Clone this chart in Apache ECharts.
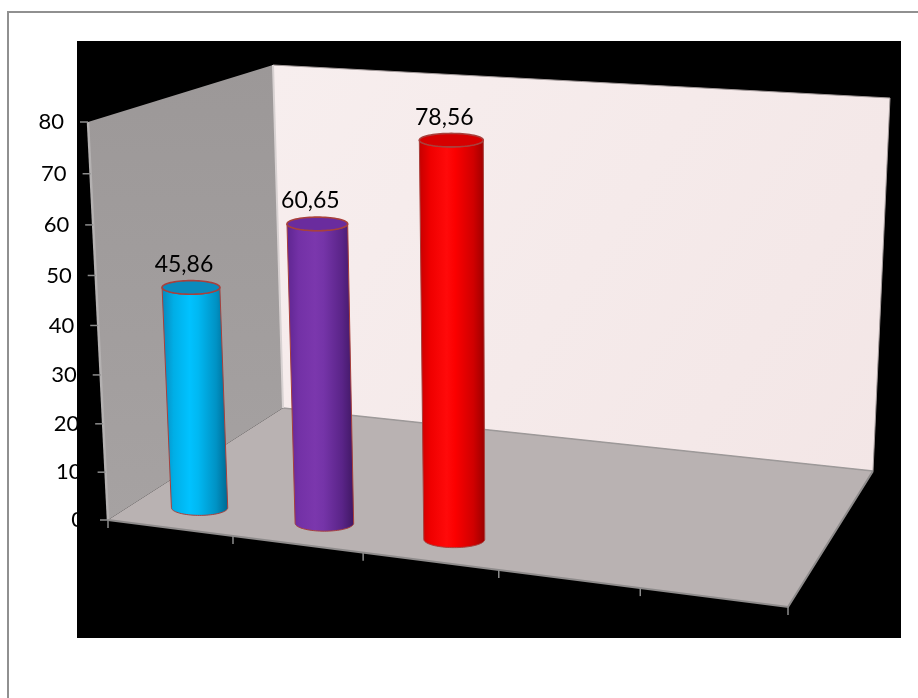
<!DOCTYPE html>
<html>
<head>
<meta charset="utf-8">
<script src="https://cdn.jsdelivr.net/npm/echarts@6/dist/echarts.min.js"></script>
<style>
  html, body { margin: 0; padding: 0; background: #ffffff; }
  #chart { width: 918px; height: 698px; }
</style>
</head>
<body>
<div id="chart"></div>
<script>
// ---- data ----
const categories = ['1', '2', '3', '4', '5'];
const values = [45.86, 60.65, 78.56];
const yTicks = [0, 10, 20, 30, 40, 50, 60, 70, 80];
const yTickLabels = ['0', '10', '20', '30', '40', '50', '60', '70', '80'];

// ---- styling ----
const barPalette = [
  { edge: ['#0a86b8', '#00aee6', '#00c2ff', '#00b8f2', '#0092c4', '#00678f'], top: '#0a8bbd' },
  { edge: ['#5e2590', '#7331a6', '#7b37ad', '#7534a8', '#5a2488', '#3f1762'], top: '#6a2c9e' },
  { edge: ['#c40000', '#f00000', '#ff0a0a', '#fb0000', '#d00000', '#9a0000'], top: '#d60000' }
];
const outlineColor = '#a8403c';
const axisFont = '22px Lato, Calibri, "Open Sans", sans-serif';
const labelFont = '23px Lato, Calibri, "Open Sans", sans-serif';

// ---- 3D box layout: floor (h = 0) and ceiling (h = axis max) quads,
// corners ordered front-left, front-right, back-right, back-left ----
const floorQuad = [[108, 520], [788, 607], [873, 471], [283, 408]];
const ceilQuad  = [[88, 122], [803, 168], [890, 98], [273, 65]];
const barDepth = 0.155;   // position of the columns along the depth axis (0 front, 1 back)
const barRadius = 0.23;   // column radius as a share of the category band
const heightWarp = -0.044;

// unit square -> quad projective mapping
function makeHomography(q) {
  const [x0, y0] = q[0], [x1, y1] = q[1], [x2, y2] = q[2], [x3, y3] = q[3];
  const dx1 = x1 - x2, dx2 = x3 - x2, dx3 = x0 - x1 + x2 - x3;
  const dy1 = y1 - y2, dy2 = y3 - y2, dy3 = y0 - y1 + y2 - y3;
  const den = dx1 * dy2 - dx2 * dy1;
  const g = (dx3 * dy2 - dx2 * dy3) / den;
  const h = (dx1 * dy3 - dx3 * dy1) / den;
  const a = x1 - x0 + g * x1, b = x3 - x0 + h * x3, c = x0;
  const d = y1 - y0 + g * y1, e = y3 - y0 + h * y3, f = y0;
  return function (u, v) {
    const w = g * u + h * v + 1;
    return [(a * u + b * v + c) / w, (d * u + e * v + f) / w];
  };
}
const floorMap = makeHomography(floorQuad);
const ceilMap = makeHomography(ceilQuad);

// (u along categories, v depth, h height) all in 0..1 -> screen
function project(u, v, h) {
  const p0 = floorMap(u, v), p1 = ceilMap(u, v);
  const t = h * (1 + heightWarp) / (1 + heightWarp * h);
  return [p0[0] + (p1[0] - p0[0]) * t, p0[1] + (p1[1] - p0[1]) * t];
}

// grid pixel -> unit box coordinates
function toUnit(cs, pt) {
  return [(pt[0] - cs.x) / cs.width, (cs.y + cs.height - pt[1]) / cs.height];
}

function arc(cx, cy, rx, ry, t0, t1, n) {
  const pts = [];
  for (let k = 0; k <= n; k++) {
    const t = t0 + (t1 - t0) * k / n;
    pts.push([cx + rx * Math.cos(t), cy + ry * Math.sin(t)]);
  }
  return pts;
}

function ellipseAt(uc, ur, h) {
  const L = project(uc - ur, barDepth, h);
  const R = project(uc + ur, barDepth, h);
  const C = project(uc, barDepth, h);
  const rx = (R[0] - L[0]) / 2;
  return { cx: (L[0] + R[0]) / 2, cy: C[1], rx: rx, ry: rx * (0.27 - 0.06 * h) };
}

function fmt(v) { return v.toFixed(2).replace('.', ','); }

// walls and floor
function renderFrame(params, api) {
  const P = (u, v, h) => project(u, v, h);
  const leftWall = [P(0, 0, 0), P(0, 1, 0), P(0, 1, 1), P(0, 0, 1)];
  const backWall = [P(0, 1, 0), P(1, 1, 0), P(1, 1, 1), P(0, 1, 1)];
  const floor = [P(0, 0, 0), P(1, 0, 0), P(1, 1, 0), P(0, 1, 0)];
  return {
    type: 'group',
    children: [
      { type: 'polygon', shape: { points: backWall },
        style: { fill: new echarts.graphic.LinearGradient(0, 0, 1, 1, [
          { offset: 0, color: '#f7eeee' }, { offset: 1, color: '#f3e6e6' }]),
          stroke: null } },
      { type: 'polyline', shape: { points: [P(0, 1, 1), P(1, 1, 1), P(1, 1, 0)] },
        style: { stroke: '#a39a9a', lineWidth: 1, fill: null } },
      { type: 'polygon', shape: { points: leftWall },
        style: { fill: new echarts.graphic.LinearGradient(0, 0, 0, 1, [
          { offset: 0, color: '#9c9898' }, { offset: 1, color: '#a6a2a2' }]),
          stroke: null } },
      { type: 'polygon', shape: { points: floor },
        style: { fill: '#b9b2b2', stroke: null } },
      { type: 'polyline', shape: { points: [P(0, 1, 0), P(1, 1, 0)] },
        style: { stroke: '#9d9999', lineWidth: 1.5, fill: null } },
      { type: 'polyline', shape: { points: [P(0, 1, 1), P(0, 1, 0)] },
        style: { stroke: '#d8d2d2', lineWidth: 2, fill: null } },
      { type: 'polyline', shape: { points: [P(0, 0, 1), P(0, 0, 0)] },
        style: { stroke: '#b4b1b1', lineWidth: 2.5, fill: null } },
      { type: 'polyline', shape: { points: [P(0, 0, 0), P(1, 0, 0), P(1, 1, 0)] },
        style: { stroke: '#8f8c8c', lineWidth: 2, fill: null } }
    ]
  };
}

// value axis ticks and labels along the front-left edge
function renderYTick(params, api) {
  const cs = params.coordSys;
  const hu = toUnit(cs, api.coord([0, api.value(1)]))[1];
  const p = project(0, 0, hu);
  return {
    type: 'group',
    children: [
      { type: 'line', shape: { x1: p[0] - 8, y1: p[1], x2: p[0], y2: p[1] },
        style: { stroke: '#8c8c8c', lineWidth: 1.5 } },
      { type: 'text', x: p[0] - 24, y: p[1],
        style: { text: yTickLabels[params.dataIndex], fill: '#000', font: axisFont,
                 align: 'right', verticalAlign: 'middle' } }
    ]
  };
}

// category band boundaries along the front edge of the floor
function renderXTick(params, api) {
  const cs = params.coordSys;
  const idx = api.value(0);
  const half = api.size([1, 0])[0] / 2;
  const c = api.coord([idx, 0]);
  const edges = [c[0] - half];
  if (idx === categories.length - 1) edges.push(c[0] + half);
  return {
    type: 'group',
    children: edges.map(function (x) {
      const u = (x - cs.x) / cs.width;
      const p = project(u, 0, 0);
      return { type: 'line', shape: { x1: p[0], y1: p[1], x2: p[0], y2: p[1] + 8 },
               style: { stroke: '#8c8c8c', lineWidth: 1.5 } };
    })
  };
}

// cylinders
function renderBar(params, api) {
  const cs = params.coordSys;
  const i = api.value(0), v = api.value(1);
  const top = toUnit(cs, api.coord([i, v]));
  const base = toUnit(cs, api.coord([i, 0]));
  const ur = barRadius * api.size([1, 0])[0] / cs.width;
  const uc = top[0];
  const eb = ellipseAt(uc, ur, base[1]);
  const et = ellipseAt(uc, ur, top[1]);
  const pal = barPalette[params.dataIndex % barPalette.length];
  const body = arc(eb.cx, eb.cy, eb.rx, eb.ry, 0, Math.PI, 40)
    .concat(arc(et.cx, et.cy, et.rx, et.ry, Math.PI, 0, 40));
  const stops = pal.edge.map(function (c, k) {
    return { offset: [0, 0.18, 0.42, 0.55, 0.82, 1][k], color: c };
  });
  return {
    type: 'group',
    children: [
      { type: 'polygon', shape: { points: body },
        style: { fill: new echarts.graphic.LinearGradient(0, 0, 1, 0, stops),
                 stroke: outlineColor, lineWidth: 1 } },
      { type: 'polygon', shape: { points: arc(et.cx, et.cy, et.rx, et.ry, 0, Math.PI * 2, 72) },
        style: { fill: pal.top, stroke: outlineColor, lineWidth: 1.6 } },
      { type: 'text', x: et.cx - 7, y: et.cy - 23,
        style: { text: fmt(v), fill: '#000', font: labelFont,
                 align: 'center', verticalAlign: 'middle' } }
    ]
  };
}

const chart = echarts.init(document.getElementById('chart'), null, { renderer: 'canvas' });
chart.setOption({
  backgroundColor: '#ffffff',
  animation: false,
  graphic: [
    { type: 'rect', z: 0, shape: { x: 8, y: 12, width: 940, height: 720 },
      style: { fill: '#ffffff', stroke: '#909090', lineWidth: 2 } },
    { type: 'rect', z: 0, shape: { x: 77, y: 41, width: 824, height: 597 },
      style: { fill: '#000000' } }
  ],
  grid: { left: 0, right: 0, top: 0, bottom: 0, show: false },
  xAxis: { type: 'category', data: categories, show: false, boundaryGap: true },
  yAxis: { type: 'value', min: 0, max: 80, interval: 10, show: false },
  series: [
    { type: 'custom', name: 'frame', z: 10, silent: true, renderItem: renderFrame,
      data: [[0, 0]], encode: { x: 0, y: 1 } },
    { type: 'custom', name: 'yTicks', z: 11, silent: true, renderItem: renderYTick,
      data: yTicks.map(function (t) { return [0, t]; }), encode: { x: 0, y: 1 } },
    { type: 'custom', name: 'xTicks', z: 11, silent: true, renderItem: renderXTick,
      data: categories.map(function (c, k) { return [k, 0]; }), encode: { x: 0, y: 1 } },
    { type: 'custom', name: 'values', z: 12, renderItem: renderBar,
      data: values.map(function (v, k) { return [k, v]; }), encode: { x: 0, y: 1 } }
  ]
});
</script>
</body>
</html>
